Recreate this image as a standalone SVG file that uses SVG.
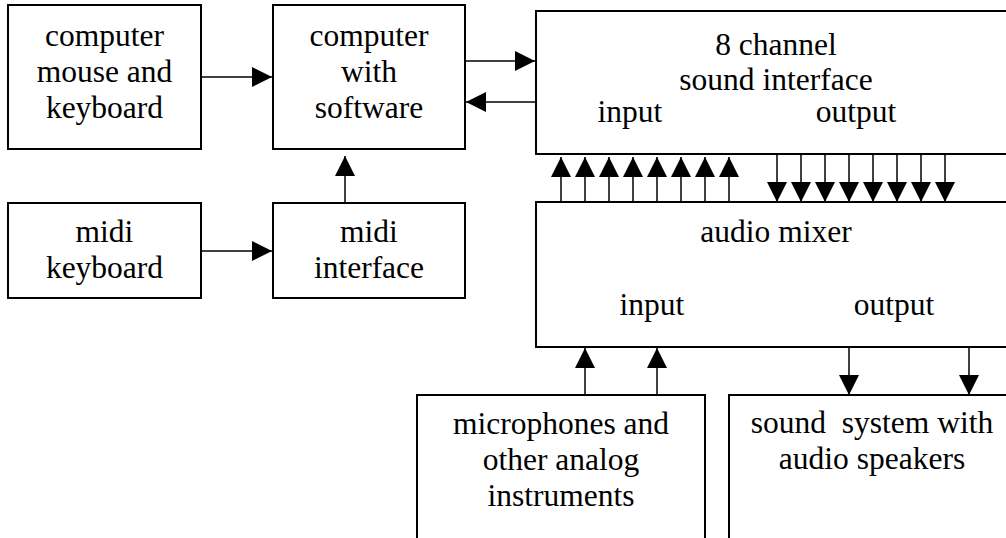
<svg xmlns="http://www.w3.org/2000/svg" width="1006" height="538" viewBox="0 0 1006 538">
<style>
.box{fill:#fff;stroke:#000;stroke-width:2}
.t{font-family:"Liberation Serif","Times New Roman",serif;font-size:31.5px;fill:#000;text-anchor:middle}
.c{stroke:#000;stroke-width:1.5;fill:none;marker-end:url(#ah)}
</style>
<defs>
<marker id="ah" viewBox="0 0 20 20" refX="20" refY="10" markerWidth="20" markerHeight="20" markerUnits="userSpaceOnUse" orient="auto">
<path d="M0,0 L20,10 L0,20 z" fill="#000"/>
</marker>
</defs>
<rect width="1006" height="538" fill="#fff"/>
<g id="mouse">
<rect class="box" x="8" y="5" width="193" height="144"/>
<text class="t" x="104.5" y="46">computer</text>
<text class="t" x="104.5" y="82">mouse and</text>
<text class="t" x="104.5" y="118">keyboard</text>
</g>
<g id="computer">
<rect class="box" x="273" y="5" width="192" height="144"/>
<text class="t" x="369" y="46">computer</text>
<text class="t" x="369" y="82">with</text>
<text class="t" x="369" y="118">software</text>
</g>
<g id="midikeyboard">
<rect class="box" x="8" y="203" width="193" height="95"/>
<text class="t" x="104.5" y="242">midi</text>
<text class="t" x="104.5" y="278">keyboard</text>
</g>
<g id="midiinterface">
<rect class="box" x="273" y="203" width="192" height="95"/>
<text class="t" x="369" y="242">midi</text>
<text class="t" x="369" y="278">interface</text>
</g>
<g id="soundinterface">
<rect class="box" x="536" y="11" width="480" height="143"/>
<text class="t" x="776" y="55">8 channel</text>
<text class="t" x="776" y="90">sound interface</text>
<text class="t" x="630" y="122">input</text>
<text class="t" x="856" y="122">output</text>
</g>
<g id="mixer">
<rect class="box" x="536" y="202" width="480" height="145"/>
<text class="t" x="776" y="242">audio mixer</text>
<text class="t" x="652" y="315">input</text>
<text class="t" x="894" y="315">output</text>
</g>
<g id="microphones">
<rect class="box" x="417" y="395" width="288" height="160"/>
<text class="t" x="561" y="434">microphones and</text>
<text class="t" x="561" y="470">other analog</text>
<text class="t" x="561" y="506">instruments</text>
</g>
<g id="soundsystem">
<rect class="box" x="729" y="395" width="286" height="160"/>
<text class="t" x="872" y="433" xml:space="preserve">sound  system with</text>
<text class="t" x="872" y="469">audio speakers</text>
</g>
<g id="connectors">
<line class="c" x1="201" y1="77" x2="272" y2="77"/>
<line class="c" x1="465" y1="61" x2="535" y2="61"/>
<line class="c" x1="536" y1="102" x2="466" y2="102"/>
<line class="c" x1="201" y1="251" x2="272" y2="251"/>
<line class="c" x1="345" y1="203" x2="345" y2="156"/>
<line class="c" x1="561" y1="202" x2="561" y2="157"/>
<line class="c" x1="585" y1="202" x2="585" y2="157"/>
<line class="c" x1="609" y1="202" x2="609" y2="157"/>
<line class="c" x1="633" y1="202" x2="633" y2="157"/>
<line class="c" x1="657" y1="202" x2="657" y2="157"/>
<line class="c" x1="681" y1="202" x2="681" y2="157"/>
<line class="c" x1="705" y1="202" x2="705" y2="157"/>
<line class="c" x1="729" y1="202" x2="729" y2="157"/>
<line class="c" x1="777" y1="154" x2="777" y2="202"/>
<line class="c" x1="801" y1="154" x2="801" y2="202"/>
<line class="c" x1="825" y1="154" x2="825" y2="202"/>
<line class="c" x1="849" y1="154" x2="849" y2="202"/>
<line class="c" x1="873" y1="154" x2="873" y2="202"/>
<line class="c" x1="897" y1="154" x2="897" y2="202"/>
<line class="c" x1="921" y1="154" x2="921" y2="202"/>
<line class="c" x1="945" y1="154" x2="945" y2="202"/>
<line class="c" x1="585" y1="395" x2="585" y2="348"/>
<line class="c" x1="657" y1="395" x2="657" y2="348"/>
<line class="c" x1="849" y1="347" x2="849" y2="395"/>
<line class="c" x1="969" y1="347" x2="969" y2="395"/>
</g>
</svg>
